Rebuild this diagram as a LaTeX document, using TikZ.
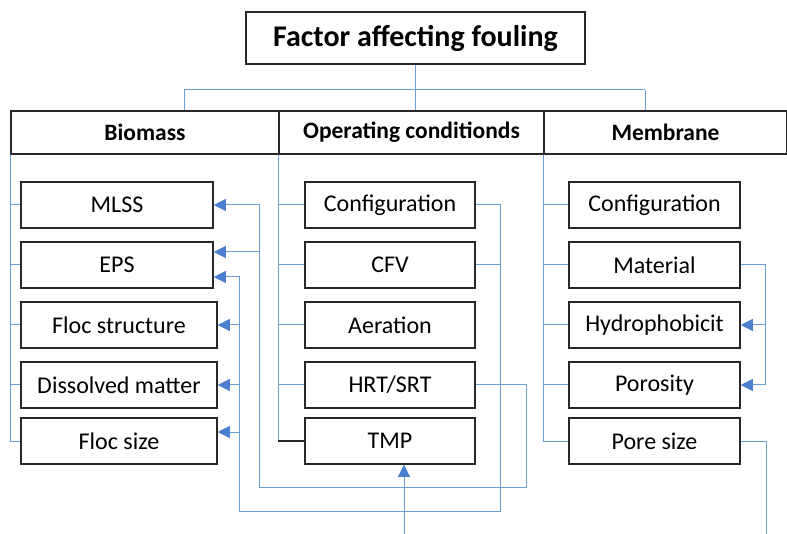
\documentclass[tikz,border=0pt]{standalone}
\usepackage{fontspec}
\setmainfont{Carlito}
\usetikzlibrary{arrows.meta}

\definecolor{linkblue}{RGB}{107,157,219}
\definecolor{tipblue}{RGB}{74,128,205}
\definecolor{boxgray}{RGB}{40,40,40}

\begin{document}
\begin{tikzpicture}[x=1pt, y=-1pt,
    box/.style={draw=boxgray, line width=1.5pt, inner sep=0pt},
    titlebox/.style={box, minimum width=339pt, minimum height=52pt, font=\fontsize{30}{34}\selectfont\bfseries},
    headbox/.style={box, minimum height=43pt, font=\fontsize{23.5}{27}\selectfont\bfseries},
    item/.style={box, minimum height=46pt, font=\fontsize{24}{28}\selectfont},
    link/.style={draw=linkblue, line width=1pt},
    arrowlink/.style={link, -{Triangle[length=12pt, width=12pt, color=tipblue]}},
    darklink/.style={draw=boxgray, line width=1.5pt}]
                \useasboundingbox (0,0) rectangle (787,534);

                % Title and headers
                \node at (415.5,38) [titlebox] (title) {Factor affecting fouling};
                \node at (145,132.5) [headbox, minimum width=268pt] (bio) {Biomass};
                \node at (411.5,132.5) [headbox, minimum width=265pt] (op) {Operating conditionds};
                \node at (665.5,132.5) [headbox, minimum width=243pt] (mem) {Membrane};

                % Biomass boxes
                \node at (117,205) [item, minimum width=192pt] (mlss) {MLSS};
                \node at (117,265) [item, minimum width=192pt] (eps) {EPS};
                \node at (119,325) [item, minimum width=196pt] (flocst) {Floc structure};
                \node at (119,385) [item, minimum width=196pt] (dissolved) {Dissolved matter};
                \node at (119,441) [item, minimum width=196pt] (flocsize) {Floc size};

                % Operating condition boxes
                \node at (390,205) [item, minimum width=170pt] (opconf) {Configuration};
                \node at (390,265) [item, minimum width=170pt] (cfv) {CFV};
                \node at (390,325) [item, minimum width=170pt] (aeration) {Aeration};
                \node at (390,385) [item, minimum width=170pt] (hrt) {HRT/SRT};
                \node at (390,441) [item, minimum width=170pt] (tmp) {TMP};

                % Membrane boxes
                \node at (654.5,205) [item, minimum width=171pt] (memconf) {Configuration};
                \node at (654.5,265) [item, minimum width=171pt] (material) {Material};
                \node at (654.5,325) [item, minimum width=171pt] (hydro) {Hydrophobicit};
                \node at (654.5,385) [item, minimum width=171pt] (porosity) {Porosity};
                \node at (654.5,441) [item, minimum width=171pt] (poresize) {Pore size};

                % Tree from the title
                \coordinate (busl) at (184,90);
                \coordinate (busr) at (645,90);
                \draw[link] (busl) -- (busr);
                \draw[link] (busl) -- (busl |- bio.north);
                \draw[link] (busr) -- (busr |- mem.north);
                \draw[link] (title.south) -- (title.south |- op.north);

                % Branches into the columns
                \foreach \n in {mlss, eps, flocst, dissolved, flocsize}
                    \draw[link] (bio.south west) |- (\n.west);
                \foreach \n in {opconf, cfv, aeration, hrt, tmp}
                    \draw[link] (op.south west) |- (\n.west);
                \draw[darklink] (op.south west |- tmp.west) -- (tmp.west);
                \foreach \n in {memconf, material, hydro, porosity, poresize}
                    \draw[link] (mem.south west) |- (\n.west);

                % Configuration and CFV to biomass
                \coordinate (ra) at (500,511);
                \coordinate (la) at (239,511);
                \coordinate (fsin) at ([yshift=9pt]flocsize.east);
                \draw[link] (opconf.east) -| (ra) -- (la);
                \draw[link] (cfv.east) -- (cfv.east -| ra);
                \draw[arrowlink] (la) |- ([yshift=-12pt]eps.east);
                \draw[arrowlink] (la |- flocst.east) -- (flocst.east);
                \draw[arrowlink] (la |- dissolved.east) -- (dissolved.east);
                \draw[arrowlink] (la |- fsin) -- (fsin);

                % HRT/SRT to biomass
                \coordinate (rb) at (526,487);
                \coordinate (lb) at (259,487);
                \coordinate (epsin) at ([yshift=13pt]eps.east);
                \draw[link] (hrt.east) -| (rb) -- (lb);
                \draw[arrowlink] (lb) |- (mlss.east);
                \draw[arrowlink] (lb |- epsin) -- (epsin);

                % Into TMP
                \coordinate (tmpin) at (404,534);
                \draw[arrowlink] (tmpin) -- (tmpin |- tmp.south);

                % Membrane links
                \coordinate (mr) at (765,0);
                \draw[link] (material.east) -| (mr |- porosity.east);
                \draw[arrowlink] (mr |- hydro.east) -- (hydro.east);
                \draw[arrowlink] (mr |- porosity.east) -- (porosity.east);
                \coordinate (poreout) at (766,534);
                \draw[link] (poresize.east) -| (poreout);

                \end{tikzpicture}
\end{document}
